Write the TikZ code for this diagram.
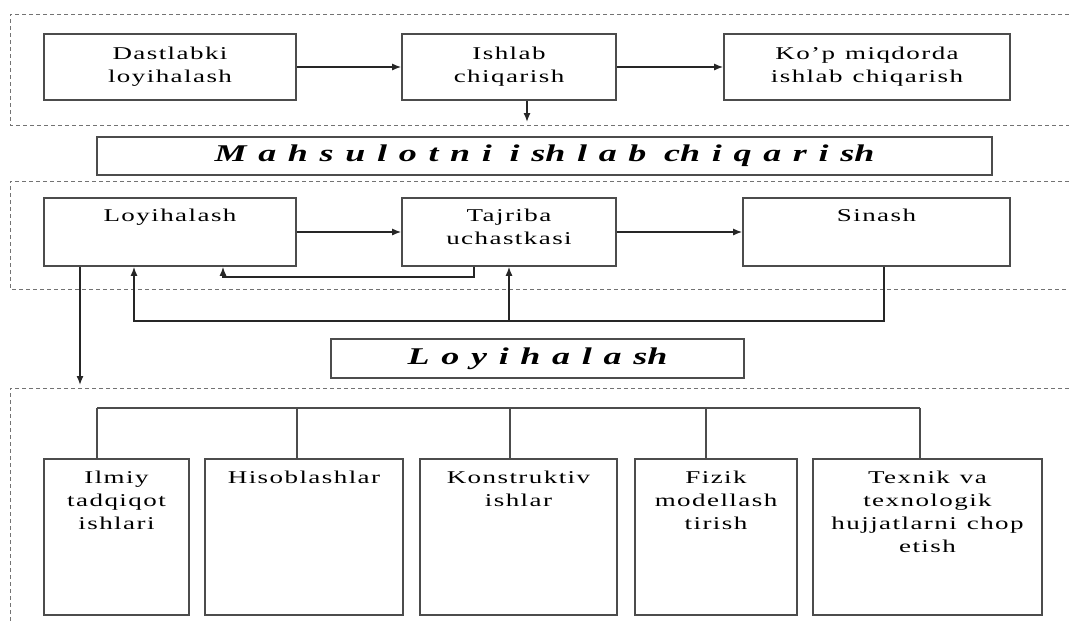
\documentclass[tikz,border=0pt]{standalone}
\usepackage{fontspec}
\setmainfont{Liberation Serif}[FakeStretch=1.5,LetterSpace=8]
\newfontfamily\headfont{Liberation Serif}[FakeStretch=1.5,WordSpace=1.3]
\usetikzlibrary{arrows.meta}

\begin{document}
\begin{tikzpicture}[x=0.5pt,y=-0.5pt,
    box/.style={draw=black!70,line width=0.8pt,inner sep=0pt,align=center,
      font=\fontsize{9}{11.5}\selectfont},
    midbox/.style={box,text height=11.5pt,text depth=22.5pt},
    lowbox/.style={box,text height=12pt,text depth=66pt},
    head/.style={draw=black!70,line width=0.8pt,inner sep=0pt,
      font=\headfont\fontsize{12}{14}\selectfont\bfseries\itshape},
    frame/.style={black!55,line width=0.5pt,dash pattern=on 2pt off 1.5pt},
    arr/.style={black!85,line width=0.7pt,-{Latex[length=4.5pt,width=3.5pt]}},
    line/.style={black!70,line width=0.8pt}]
  \useasboundingbox (0,0) rectangle (1069,623);

  % dashed frames
  \draw[frame] (1069,14) -- (10,14) -- (10,125) -- (1069,125);
  \draw[frame] (1069,181) -- (10,181) -- (10,289) -- (1069,289);
  \draw[frame] (1069,388) -- (10,388) -- (10,623);

  % production
  \node[box,text width=126pt,minimum height=33pt] (dast) at (170,67) {Dastlabki\\loyihalash};
  \node[box,text width=107pt,minimum height=33pt] (ishl) at (509,67) {Ishlab\\chiqarish};
  \node[box,text width=143pt,minimum height=33pt] (kop) at (867,67) {Ko'p\hspace{2pt} miqdorda\\ishlab\hspace{2pt} chiqarish};
  \draw[arr] (dast) -- (ishl);
  \draw[arr] (ishl) -- (kop);
  \coordinate (c1) at (527,122);
  \draw[arr] (c1 |- ishl.south) -- (c1);

  \node[head,minimum width=447.5pt,minimum height=19pt] (mahs) at (544.5,156)
    {M a h s u l o t n i\hspace{3pt} i sh l a b\hspace{3pt} ch i q a r i sh};

  % design loop
  \node[midbox,text width=126pt] (loy) at (170,232) {Loyihalash};
  \node[midbox,text width=107pt] (taj) at (509,232) {Tajriba\\uchastkasi};
  \node[midbox,text width=133.5pt] (sin) at (876.5,232) {Sinash};
  \draw[arr] (loy) -- (taj);
  \draw[arr] (taj) -- (sin);
  \coordinate (f1) at (474,277);
  \coordinate (f2) at (223,277);
  \draw[arr] (f1 |- taj.south) -- (f1) -- (f2) -- (f2 |- loy.south);
  \coordinate (f3) at (884,321);
  \coordinate (f4) at (134,321);
  \draw[arr] (f3 |- sin.south) -- (f3) -- (f4) -- (f4 |- loy.south);
  \draw[arr] (taj.south |- f3) -- (taj.south);
  \coordinate (d1) at (80,385);
  \draw[arr] (d1 |- loy.south) -- (d1);

  \node[head,minimum width=206.5pt,minimum height=19.5pt] (loyh) at (537.5,358.5)
    {L o y i h a l a sh};

  % design works
  \node[lowbox,text width=72.5pt] (ilm) at (116.5,537) {Ilmiy\\tadqiqot\\ishlari};
  \node[lowbox,text width=99pt] (his) at (304,537) {Hisoblashlar};
  \node[lowbox,text width=98.5pt] (kon) at (518.5,537) {Konstruktiv\\ishlar};
  \node[lowbox,text width=81pt] (fiz) at (716,537) {Fizik\\modellash\\tirish};
  \node[lowbox,text width=114.5pt] (tex) at (927.5,537) {Texnik\hspace{2pt} va\\texnologik\\hujjatlarni\hspace{2pt} chop\\etish};
  \foreach \n/\dx in {ilm/97,his/297,kon/510,fiz/706,tex/920}{
    \coordinate (b\n) at (\dx,408);
    \draw[line] (b\n) -- (b\n |- \n.north);
  }
  \draw[line] (bilm) -- (btex);
\end{tikzpicture}
\end{document}
